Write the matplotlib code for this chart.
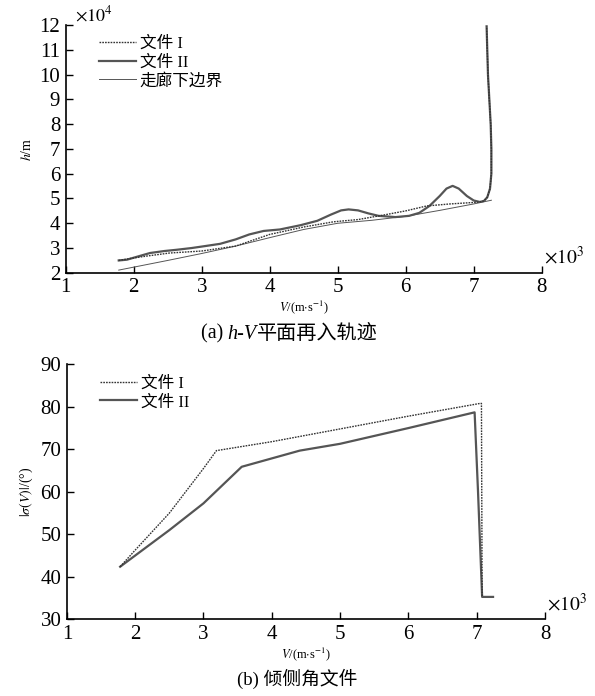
import numpy as np
import matplotlib.pyplot as plt

plt.rcParams['font.family'] = ['Liberation Serif', 'Noto Sans CJK SC']
plt.rcParams['mathtext.fontset'] = 'stix'

# (a) h-V trajectory, V in 1e3 m/s, h in 1e4 m
v_a1 = [1.78, 2.0, 2.2, 2.53, 3.0, 3.5, 4.0, 4.5, 4.94, 5.3, 5.67, 6.0, 6.31, 6.65, 7.0, 7.09,
        7.15, 7.2, 7.24, 7.26, 7.26, 7.25, 7.23, 7.21, 7.19]
h_a1 = [2.5, 2.6, 2.68, 2.8, 2.88, 3.08, 3.55, 3.85, 4.06, 4.15, 4.33, 4.5, 4.7, 4.78, 4.84, 4.86,
        4.9, 5.05, 5.4, 6.0, 7.0, 8.0, 9.0, 10.0, 11.95]
v_a2 = [1.78, 1.9, 2.05, 2.24, 2.45, 2.63, 2.85, 3.05, 3.27, 3.5, 3.7, 3.91, 4.15, 4.45,
        4.7, 4.9, 5.05, 5.16, 5.3, 5.45, 5.6, 5.85, 6.05, 6.2, 6.35, 6.5, 6.6, 6.69, 6.78,
        6.9, 7.0, 7.09, 7.15, 7.2, 7.24, 7.26, 7.26, 7.25, 7.23, 7.21, 7.19]
h_a2 = [2.5, 2.53, 2.65, 2.8, 2.88, 2.93, 3.0, 3.08, 3.17, 3.35, 3.55, 3.69, 3.75, 3.92,
        4.1, 4.35, 4.52, 4.56, 4.52, 4.4, 4.3, 4.25, 4.3, 4.42, 4.7, 5.1, 5.4, 5.51, 5.4,
        5.1, 4.92, 4.86, 4.9, 5.05, 5.4, 6.0, 7.0, 8.0, 9.0, 10.0, 11.95]
v_low = [1.78, 2.5, 3.0, 3.5, 4.0, 4.5, 5.0, 5.5, 6.0, 6.5, 7.0, 7.26]
h_low = [2.11, 2.5, 2.78, 3.08, 3.42, 3.75, 4.0, 4.12, 4.28, 4.52, 4.78, 4.93]

# (b) bank angle, V in 1e3 m/s, sigma in deg
v_b1 = [1.78, 2.0, 2.5, 3.0, 3.19, 4.0, 5.0, 6.0, 7.05, 7.07, 7.08]
s_b1 = [42.4, 46.3, 55.0, 65.5, 69.7, 71.8, 74.8, 77.8, 80.8, 80.8, 35.3]
v_b2 = [1.78, 2.14, 2.5, 3.0, 3.56, 4.41, 5.0, 6.0, 6.97, 7.02, 7.08, 7.24]
s_b2 = [42.4, 46.7, 51.0, 57.3, 65.9, 69.7, 71.3, 75.0, 78.7, 60.0, 35.3, 35.3]

lab1 = '文件 I'
lab2 = '文件 II'
lab3 = '走廊下边界'

fig = plt.figure(figsize=(5.95, 6.96), dpi=100)

def style(ax):
    for s in ['top', 'right']:
        ax.spines[s].set_visible(False)
    for s in ['left', 'bottom']:
        ax.spines[s].set_linewidth(1.2)
    ax.tick_params(direction='in', length=5, width=1.0, labelsize=15, pad=4)

ax1 = fig.add_axes([0.1104, 0.608, 0.800, 0.356])
ax1.plot(v_a1, h_a1, color='#333333', lw=1.0, linestyle=(0, (1.2, 0.8)), label=lab1, zorder=4)
ax1.plot(v_a2, h_a2, color='#555555', lw=1.6, label=lab2, zorder=3)
ax1.plot(v_low, h_low, color='#555555', lw=0.7, label=lab3, zorder=2)
ax1.set_xlim(1, 8)
ax1.set_ylim(2, 12)
ax1.set_xticks(range(1, 9))
ax1.set_yticks(range(2, 13))
style(ax1)
ax1.legend(loc='upper left', bbox_to_anchor=(0.07, 0.955), frameon=False, fontsize=12,
           handlelength=2.2, handletextpad=0.25, labelspacing=0.15, borderpad=0, borderaxespad=0)
ax1.text(0.02, 1.0, r'$\times 10^4$', transform=ax1.transAxes, fontsize=13, va='bottom')
ax1.text(1.005, 0.02, r'$\times 10^3$', transform=ax1.transAxes, fontsize=14, va='bottom')
ax1.set_ylabel(r'$h$/m', fontsize=10, labelpad=4)
ax1.set_xlabel(r'$V$/(m$\cdot$s$^{-1}$)', fontsize=9, labelpad=1)

ax2 = fig.add_axes([0.1124, 0.110, 0.8035, 0.3666])
ax2.plot(v_b1, s_b1, color='#333333', lw=1.0, linestyle=(0, (1.2, 0.8)), label=lab1, zorder=4)
ax2.plot(v_b2, s_b2, color='#555555', lw=1.6, label=lab2, zorder=3)
ax2.set_xlim(1, 8)
ax2.set_ylim(30, 90)
ax2.set_xticks(range(1, 9))
ax2.set_yticks(range(30, 91, 10))
style(ax2)
ax2.legend(loc='upper left', bbox_to_anchor=(0.07, 0.955), frameon=False, fontsize=12,
           handlelength=2.2, handletextpad=0.25, labelspacing=0.15, borderpad=0, borderaxespad=0)
ax2.text(1.005, 0.02, r'$\times 10^3$', transform=ax2.transAxes, fontsize=14, va='bottom')
ax2.set_ylabel(r'$|\sigma(V)|$/(°)', fontsize=10, labelpad=4)
ax2.set_xlabel(r'$V$/(m$\cdot$s$^{-1}$)', fontsize=9, labelpad=1)

# captions
t1 = fig.text(0.337, 0.513, '(a) ', fontsize=14.5, va='baseline')
t2 = ax1.annotate('h-V', xy=(1, 0), xycoords=t1, fontsize=14.5, style='italic', va='bottom')
ax1.annotate('平面再入轨迹', xy=(1, 0), xycoords=t2, fontsize=14.5, va='bottom')
fig.text(0.5, 0.016, '(b) 倾侧角文件', fontsize=13.5, ha='center', va='baseline')

fig.savefig('out.png', dpi=100)
